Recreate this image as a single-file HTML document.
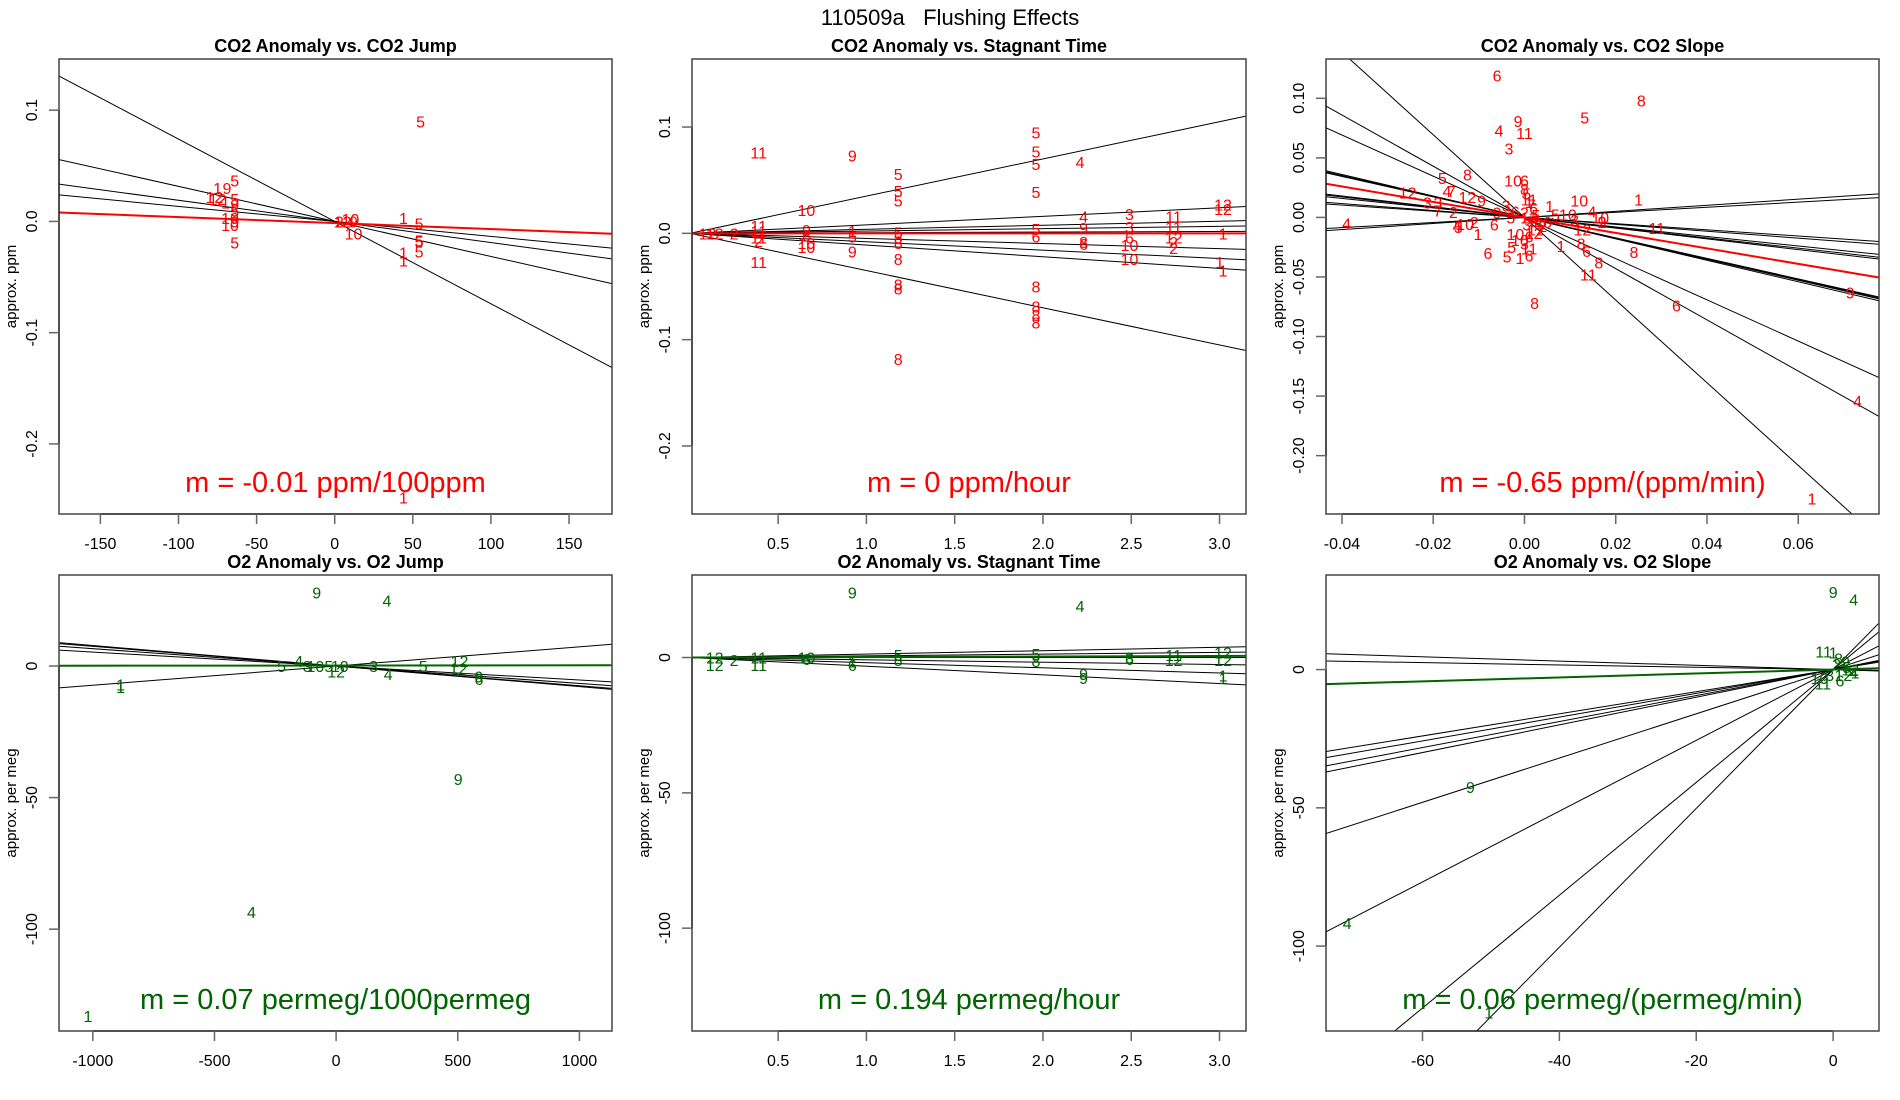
<!DOCTYPE html>
<html><head><meta charset="utf-8"><title>110509a Flushing Effects</title>
<style>
html,body{margin:0;padding:0;background:#fff;overflow:hidden;width:1900px;height:1100px;}
svg{display:block;font-family:"Liberation Sans",Arial,sans-serif;}
</style></head>
<body>
<svg id="fig" width="1900" height="1100" viewBox="0 0 1900 1100" xmlns="http://www.w3.org/2000/svg">
<text x="950" y="25" text-anchor="middle" font-size="22" fill="#000" xml:space="preserve">110509a&#160;&#160;&#160;Flushing Effects</text>
</svg>
<script>
// ---------- Panel 1: CO2 anomaly vs CO2 jump ----------
const p1X = [55,-75,-64,-69,-77,-75,-64,-70,-64,-64,-67,-64,-67,-64,5,3,10,12,12,44,54,54,54,44,54,44,44];
const p1Y = [0.090,0.030,0.037,0.030,0.022,0.020,0.020,0.017,0.015,0.010,0.003,0.000,-0.003,-0.019,0,0,0.002,0.000,-0.011,0.003,-0.002,-0.017,-0.018,-0.028,-0.027,-0.035,-0.248];
const p1Lab = ["5","1","5","9","12","12","5","1","9","5","10","9","10","5","12","2","10","9","10","1","5","5","5","1","5","1","1"];
const p1Slopes = [-0.00074,-0.000315,-0.00019,-0.000135];
const p1Fit = [-0.000054,-0.0015];
const p1XTicks = [-150,-100,-50,0,50,100,150];
const p1YTicks = [0.1,0.0,-0.1,-0.2];
const p1YTickLab = ["0.1","0.0","-0.1","-0.2"];

// ---------- Panel 2: CO2 anomaly vs stagnant time ----------
const p2X = [0.39,0.92,1.96,1.96,1.96,2.21,1.96,1.18,1.18,1.18,0.66,0.39,0.39,0.92,1.18,1.18,1.18,1.18,1.18,1.96,1.96,1.96,1.96,2.23,2.49,2.74,3.02,3.02,3.02,3.0,3.02,2.49,2.74,
  0.1,0.14,0.25,0.39,0.39,0.66,0.66,0.66,0.92,0.92,1.18,1.18,1.96,1.96,2.23,2.23,2.49,2.49,2.49,2.74,2.74,2.74,2.23,0.39,0.66];
const p2Y = [0.076,0.073,0.095,0.077,0.065,0.067,0.039,0.056,0.040,0.031,0.022,0.007,-0.027,-0.017,-0.009,-0.024,-0.048,-0.052,-0.118,-0.050,-0.069,-0.077,-0.084,0.016,0.018,0.016,0.027,0.023,0.0,-0.027,-0.035,-0.024,-0.014,
  0.0,0.0,0.0,0.002,-0.004,0.003,-0.002,-0.013,0.002,-0.003,0.001,-0.004,0.004,-0.003,0.005,-0.008,0.006,-0.004,-0.011,0.006,-0.004,-0.008,-0.010,-0.007,-0.009];
const p2Lab = ["11","9","5","5","5","4","5","5","5","5","10","11","11","9","8","8","8","8","8","8","8","8","8","4","3","11","12","12","1","1","1","10","2",
  "12","12","2","11","11","9","6","10","1","5","5","5","5","6","9","8","3","6","10","11","12","2","6","2","10"];
const p2Slopes = [0.035,0.008,0.0038,0.0022,0.0006,-0.0048,-0.0079,-0.011,-0.035];
const p2Fit = [0.0,0.0];
const p2XTicks = [0.5,1.0,1.5,2.0,2.5,3.0];
const p2YTicks = [0.1,0.0,-0.1,-0.2];
const p2YTickLab = ["0.1","0.0","-0.1","-0.2"];

// ---------- Panel 3: CO2 anomaly vs CO2 slope ----------
const p3X = [-0.006,0.0256,0.0132,-0.0014,-0.0056,0,-0.0034,-0.0125,-0.018,-0.0025,0,-0.0256,-0.017,-0.016,-0.0125,-0.0094,0.025,0.012,0.0148,0.0166,0.017,0.029,-0.039,-0.0213,-0.019,-0.019,-0.0156,-0.0148,-0.0145,-0.013,-0.011,-0.0102,-0.0066,-0.002,-0.0028,-0.008,-0.0038,-0.001,0.001,0.008,0.0124,0.0136,0.024,0.0163,0.014,0.0022,0.0333,0.0714,0.073,0.063,0.0127,0.017,0.0095,0.011,0.0055,0.0068,
  0.0,0.0005,0.001,0.0015,0.002,0.0,0.001,0.002,0.0005,0.0015,0.001,-0.001,0.003,0.004,0.0025,0.0,0.001,-0.002,-0.004,-0.006,-0.003,0.002,0.001,0.0035,0.005];
const p3Y = [0.119,0.098,0.084,0.081,0.073,0.071,0.058,0.036,0.033,0.031,0.031,0.021,0.022,0.022,0.017,0.014,0.015,0.014,0.005,0.0,-0.0035,-0.009,-0.005,0.0126,0.0126,0.006,0.0047,-0.007,-0.008,-0.0056,-0.004,-0.014,-0.006,-0.014,-0.025,-0.030,-0.033,-0.034,-0.032,-0.024,-0.022,-0.028,-0.029,-0.038,-0.048,-0.072,-0.074,-0.063,-0.154,-0.236,-0.010,-0.004,0.0026,-0.002,0.0097,0.0026,
  0.024,0.020,0.015,0.011,0.008,0.004,0.0,-0.003,-0.006,-0.010,-0.016,-0.019,-0.005,-0.007,0.002,-0.022,-0.026,0.005,0.010,0.004,0.000,-0.013,0.013,-0.010,-0.004];
const p3Lab = ["6","8","5","9","4","11","3","8","5","10","6","12","4","7","12","9","1","10","4","10","9","11","4","3","3","7","2","4","5","10","2","1","6","10","5","6","5","1","6","1","8","6","8","8","11","8","6","9","4","1","12","2","10","3","1","5",
  "8","5","11","7","6","2","12","9","3","1","6","10","4","2","5","3","11","6","3","9","5","12","1","2","6"];
const p3Slopes = [-3.47,-2.15,-1.73,-0.87,-0.88,-0.90,-0.86,-0.40,-0.43,-0.45,-0.29,-0.26,0.255,0.214];
const p3Fit = [-0.65,0.0];
const p3XTicks = [-0.04,-0.02,0.0,0.02,0.04,0.06];
const p3XTickLab = ["-0.04","-0.02","0.00","0.02","0.04","0.06"];
const p3YTicks = [0.10,0.05,0.0,-0.05,-0.10,-0.15,-0.20];
const p3YTickLab = ["0.10","0.05","0.00","-0.05","-0.10","-0.15","-0.20"];

// ---------- Panel 4: O2 anomaly vs O2 jump ----------
const p4X = [-80,209,502,-348,-1020,-886,-886,-224,-154,-119,-85,-30,15,0,154,214,358,507,502,587,587];
const p4Y = [28,25,-43,-93.5,-133,-7,-8,0,2,0,0,0,0,-2,0,-3,0,2,-1,-4,-5];
const p4Lab = ["9","4","9","4","1","1","1","5","4","3","10","5","10","12","3","4","5","12","12","9","6"];
const p4Slopes = [-0.0078,-0.0066,-0.0053,-0.0075,0.0073];
const p4Fit = [0.00007,0.2];
const p4XTicks = [-1000,-500,0,500,1000];
const p4YTicks = [0,-50,-100];

// ---------- Panel 5: O2 anomaly vs stagnant time ----------
const p5X = [0.92,2.21,0.14,0.14,0.25,0.39,0.39,0.66,0.66,0.92,0.92,1.18,1.18,1.96,1.96,2.23,2.23,2.49,2.49,2.74,2.74,3.02,3.02,3.02,3.02];
const p5Y = [24,19,0,-2.7,-1,0,-2.7,0,-0.5,-2.7,-1.5,1,-1,1.3,-1.3,-6,-7.6,0,-0.5,-1,1,1.8,-1,-6.7,-7.6];
const p5Lab = ["9","4","12","12","2","11","11","10","6","6","1","5","8","5","8","9","9","3","6","12","11","12","12","1","1"];
const p5Slopes = [1.27,0.64,0.0,-0.86,-1.9,-3.2];
const p5Fit = [0.194,0.0];
const p5XTicks = [0.5,1.0,1.5,2.0,2.5,3.0];
const p5YTicks = [0,-50,-100];

// ---------- Panel 6: O2 anomaly vs O2 slope ----------
const p6X = [0,3,-53,-71,-50.3,-1.4,0,1.5,3,-1.5,0.5,2,-0.5,1,2.5,-2,0.8,1.8,3.2];
const p6Y = [28,25.4,-42.5,-91.7,-124,6.6,6.2,-2,-1,-5,2,1,-2,-4,0,-3,4,3,-1];
const p6Lab = ["9","4","9","4","1","11","1","12","4","11","2","5","3","6","12","10","8","9","1"];
const p6Slopes = [-0.077,-0.042,0.40,0.43,0.47,0.50,0.80,1.28,2.04,2.51];
const p6Fit = [0.071,0.0];
const p6XTicks = [-60,-40,-20,0];
const p6YTicks = [0,-50,-100];

const NS = "http://www.w3.org/2000/svg";
const svg = document.getElementById('fig');
function mk(tag, attrs, parent){
  const e = document.createElementNS(NS, tag);
  for (const k in attrs) e.setAttribute(k, attrs[k]);
  (parent||svg).appendChild(e);
  return e;
}

function panel(cfg){
  const {id,x0,y0,x1,y1,xr,yr} = cfg;
  const sx = v => x0 + (v - xr[0])/(xr[1]-xr[0])*(x1-x0);
  const sy = v => y1 - (v - yr[0])/(yr[1]-yr[0])*(y1-y0);
  const g = mk('g', {});
  
  
  const cp = mk('clipPath', {id: id+'-clip'}, g);
  mk('rect', {x:x0, y:y0, width:x1-x0, height:y1-y0}, cp);
  const t = mk('text', {x:(x0+x1)/2, y:y0-7, 'text-anchor':'middle', 'font-size':18, 'font-weight':'bold'}, g);
  
  
  t.textContent = cfg.title;
  const pg = mk('g', {'clip-path':'url(#'+id+'-clip)'}, g);
  cfg.slopes.forEach((m,i) => {
    const l = mk('line', {x1:sx(xr[0]), y1:sy(m*xr[0]), x2:sx(xr[1]), y2:sy(m*xr[1]), stroke:'#000', 'stroke-width':1}, pg);
    
    
  });
  const f = cfg.fit;
  const fl = mk('line', {x1:sx(xr[0]), y1:sy(f[0]*xr[0]+f[1]), x2:sx(xr[1]), y2:sy(f[0]*xr[1]+f[1]), stroke:cfg.color, 'stroke-width':2}, pg);
  
  
  cfg.px.forEach((v,i) => {
    const tx = mk('text', {x:sx(v), y:sy(cfg.py[i])+6, 'text-anchor':'middle', 'font-size':16, fill:cfg.color}, pg);
    
    
    tx.textContent = cfg.plab[i];
  });
  const an = mk('text', {x:(x0+x1)/2, y:y1-22, 'text-anchor':'middle', 'font-size':29, fill:cfg.color}, g);
  
  
  an.textContent = cfg.note;
  const bx = mk('rect', {x:x0, y:y0, width:x1-x0, height:y1-y0, fill:'none', stroke:'#444', 'stroke-width':1.5}, g);
  
  
  const xa = mk('g', {}, g);
  
  
  const xt = cfg.xticks;
  mk('line', {x1:sx(xt[0]), y1:y1, x2:sx(xt[xt.length-1]), y2:y1, stroke:'#000', 'stroke-width':1}, xa);
  xt.forEach((v,i) => {
    mk('line', {x1:sx(v), y1:y1, x2:sx(v), y2:y1+10, stroke:'#666', 'stroke-width':1.5}, xa);
    const tl = mk('text', {x:sx(v), y:y1+35, 'text-anchor':'middle', 'font-size':16}, xa);
    
    
    tl.textContent = cfg.xlab ? cfg.xlab[i] : String(v);
  });
  const ya = mk('g', {}, g);
  
  
  const yt = cfg.yticks;
  mk('line', {x1:x0, y1:sy(yt[0]), x2:x0, y2:sy(yt[yt.length-1]), stroke:'#000', 'stroke-width':1}, ya);
  yt.forEach((v,i) => {
    mk('line', {x1:x0-10, y1:sy(v), x2:x0, y2:sy(v), stroke:'#666', 'stroke-width':1.5}, ya);
    const tl = mk('text', {x:0, y:0, 'text-anchor':'middle', 'font-size':16, transform:'translate('+(x0-22)+','+sy(v)+') rotate(-90)'}, ya);
    
    
    tl.textContent = cfg.ylab ? cfg.ylab[i] : String(v);
  });
  const yl = mk('text', {x:0, y:0, 'text-anchor':'middle', 'font-size':15, transform:'translate('+(x0-43)+','+((y0+y1)/2)+') rotate(-90)'}, ya);
  
  
  yl.textContent = cfg.ytitle;
}

const RED = '#ff0000', GRN = '#006400';
panel({id:'co2-jump', title:'CO2 Anomaly vs. CO2 Jump', x0:59,y0:59,x1:612,y1:514, xr:[-176.5,177.5], yr:[-0.263,0.146],
  slopes:p1Slopes, fit:p1Fit, px:p1X, py:p1Y, plab:p1Lab, color:RED, note:'m = -0.01 ppm/100ppm',
  xticks:p1XTicks, yticks:p1YTicks, ylab:p1YTickLab, ytitle:'approx. ppm'});
panel({id:'co2-stagnant', title:'CO2 Anomaly vs. Stagnant Time', x0:692,y0:59,x1:1246,y1:514, xr:[0.012,3.15], yr:[-0.264,0.164],
  slopes:p2Slopes, fit:p2Fit, px:p2X, py:p2Y, plab:p2Lab, color:RED, note:'m = 0 ppm/hour',
  xticks:p2XTicks, xlab:p2XTicks.map(v=>v.toFixed(1)), yticks:p2YTicks, ylab:p2YTickLab, ytitle:'approx. ppm'});
panel({id:'co2-slope', title:'CO2 Anomaly vs. CO2 Slope', x0:1326,y0:59,x1:1879,y1:514, xr:[-0.0435,0.0777], yr:[-0.249,0.133],
  slopes:p3Slopes, fit:p3Fit, px:p3X, py:p3Y, plab:p3Lab, color:RED, note:'m = -0.65 ppm/(ppm/min)',
  xticks:p3XTicks, xlab:p3XTickLab, yticks:p3YTicks, ylab:p3YTickLab, ytitle:'approx. ppm'});
panel({id:'o2-jump', title:'O2 Anomaly vs. O2 Jump', x0:59,y0:575,x1:612,y1:1031, xr:[-1139,1134], yr:[-138.7,34.6],
  slopes:p4Slopes, fit:p4Fit, px:p4X, py:p4Y, plab:p4Lab, color:GRN, note:'m = 0.07 permeg/1000permeg',
  xticks:p4XTicks, yticks:p4YTicks, ytitle:'approx. per meg'});
panel({id:'o2-stagnant', title:'O2 Anomaly vs. Stagnant Time', x0:692,y0:575,x1:1246,y1:1031, xr:[0.012,3.15], yr:[-138,30.5],
  slopes:p5Slopes, fit:p5Fit, px:p5X, py:p5Y, plab:p5Lab, color:GRN, note:'m = 0.194 permeg/hour',
  xticks:p5XTicks, xlab:p5XTicks.map(v=>v.toFixed(1)), yticks:p5YTicks, ytitle:'approx. per meg'});
panel({id:'o2-slope', title:'O2 Anomaly vs. O2 Slope', x0:1326,y0:575,x1:1879,y1:1031, xr:[-74.1,6.7], yr:[-130.7,34.2],
  slopes:p6Slopes, fit:p6Fit, px:p6X, py:p6Y, plab:p6Lab, color:GRN, note:'m = 0.06 permeg/(permeg/min)',
  xticks:p6XTicks, yticks:p6YTicks, ytitle:'approx. per meg'});
</script>
</body></html>
